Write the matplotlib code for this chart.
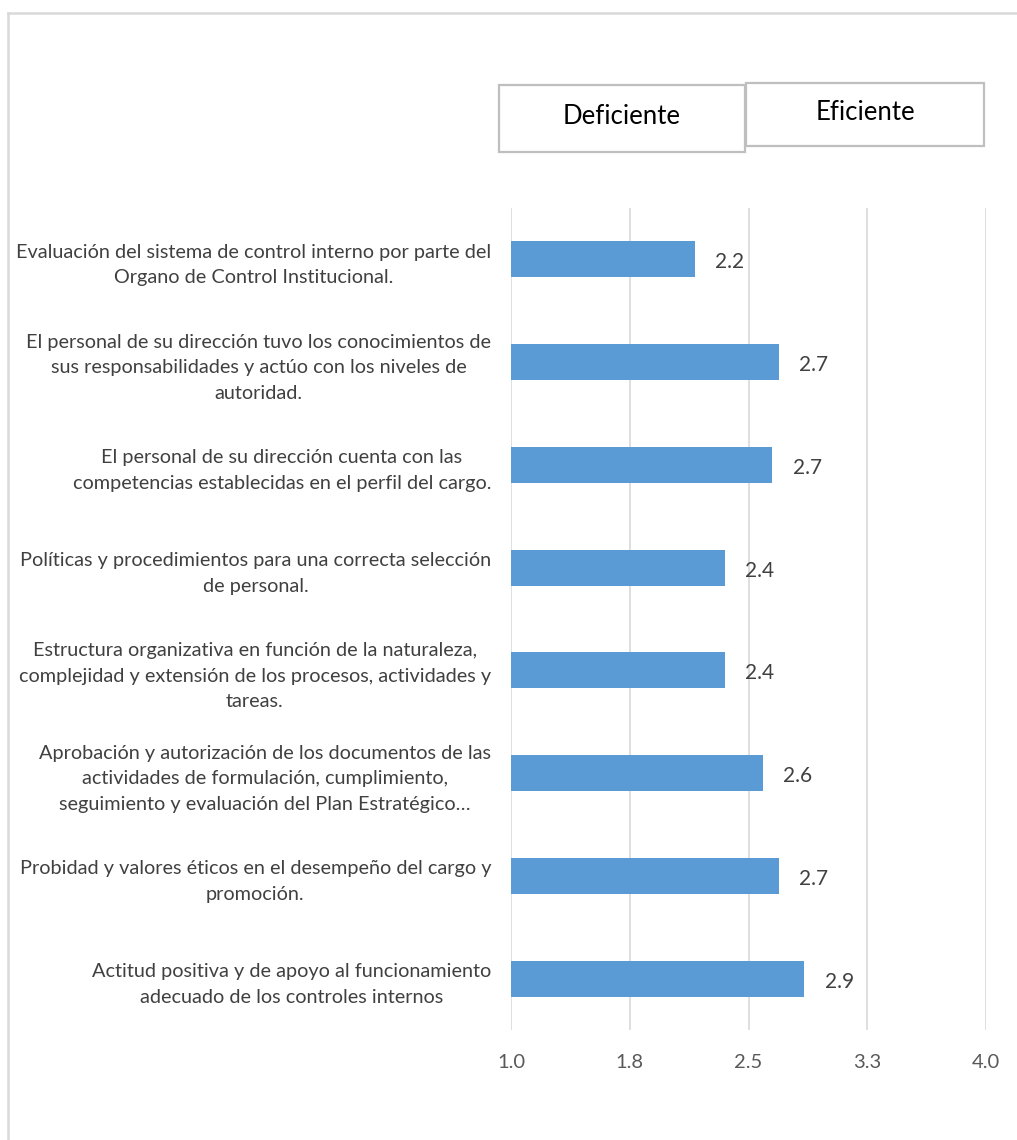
import numpy as np
import matplotlib
matplotlib.use('Agg')
import matplotlib.pyplot as plt
from matplotlib.patches import Rectangle
from matplotlib.lines import Line2D

#DATA
categorias = [
    'Evaluación del sistema de control interno por parte del\nOrgano de Control Institucional.',
    'El personal de su dirección tuvo los conocimientos de\nsus responsabilidades y actúo con los niveles de\nautoridad.',
    'El personal de su dirección cuenta con las\ncompetencias establecidas en el perfil del cargo.',
    'Políticas y procedimientos para una correcta selección\nde personal.',
    'Estructura organizativa en función de la naturaleza,\ncomplejidad y extensión de los procesos, actividades y\ntareas.',
    'Aprobación y autorización de los documentos de las\nactividades de formulación, cumplimiento,\nseguimiento y evaluación del Plan Estratégico…',
    'Probidad y valores éticos en el desempeño del cargo y\npromoción.',
    'Actitud positiva y de apoyo al funcionamiento\nadecuado de los controles internos',
]
valores = [2.16, 2.69, 2.651, 2.351, 2.351, 2.59, 2.69, 2.851]
ticks_x = [1.0, 1.75, 2.5, 3.25, 4.0]
ticks_x_lbl = ['1.0', '1.8', '2.5', '3.3', '4.0']
escala = ['Deficiente', 'Eficiente']
###

plt.rcParams['font.family'] = ['Lato', 'DejaVu Sans']

fig = plt.figure(figsize=(10.17, 11.4), dpi=100)
ax = fig.add_axes([511/1017, 1 - 1030/1140, 475/1017, 822/1140])

y = np.arange(len(categorias))
ax.barh(y, valores, left=0, height=0.35, color='#5B9BD5', zorder=3)
ax.set_ylim(len(categorias) - 0.5, -0.5)
ax.set_xlim(1.0, 4.0)

for yi, v in zip(y, valores):
    ax.text(v + 0.13, yi + 0.03, '%.1f' % v, va='center', ha='left',
            fontsize=15, color='#404040')

ax.set_xticks(ticks_x)
ax.set_xticklabels(ticks_x_lbl, fontsize=14.5, color='#595959')
ax.set_yticks(y)
ax.set_yticklabels(categorias, fontsize=14.3, color='#404040',
                   ha='right', multialignment='center', linespacing=1.6)
ax.tick_params(axis='y', length=0, pad=14.4)
ax.tick_params(axis='x', length=0, pad=17)
ax.xaxis.grid(True, color='#D9D9D9', linewidth=1.2, zorder=0)
for s in ax.spines.values():
    s.set_visible(False)

# cajas de la escala arriba
cajas = [(499, 85, 246, 67), (746, 83, 238, 63)]
for (x0, y0, w, h), txt in zip(cajas, escala):
    fig.patches.append(Rectangle((x0/1017, 1 - (y0 + h)/1140), w/1017, h/1140,
                                 transform=fig.transFigure, fill=False,
                                 edgecolor='#BFBFBF', linewidth=1.6))
    fig.text((x0 + w/2)/1017, 1 - (y0 + h/2 - 2)/1140, txt,
             ha='center', va='center', fontsize=18.5, color='black')

# marco del grafico
fig.lines.append(Line2D([8/1017, 8/1017], [0, 1 - 13/1140], transform=fig.transFigure,
                        color='#D9D9D9', linewidth=1.8))
fig.lines.append(Line2D([8/1017, 1], [1 - 13/1140, 1 - 13/1140], transform=fig.transFigure,
                        color='#D9D9D9', linewidth=1.8))

fig.savefig('out.png', dpi=100)
